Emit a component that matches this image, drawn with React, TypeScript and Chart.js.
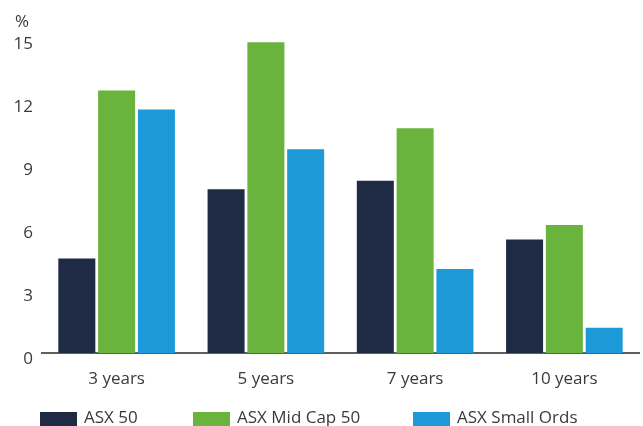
import React, { useEffect, useRef } from "react";
import { Chart, registerables } from "chart.js";

Chart.register(...registerables);

// ---- data ----
const categories = ["3 years", "5 years", "7 years", "10 years"];
const seriesNames = ["ASX 50", "ASX Mid Cap 50", "ASX Small Ords"];
const asx50 = [4.5, 7.8, 8.2, 5.4];
const midCap50 = [12.5, 14.8, 10.7, 6.1];
const smallOrds = [11.6, 9.7, 4.0, 1.2];
const yTicks = [0, 3, 6, 9, 12, 15];
const unitLabel = "%";

// ---- styles ----
const COLORS = ["#1f2a44", "#6ab43e", "#1c99d6"];
const FONT_FAMILY = "'Open Sans', sans-serif";
const FONT_SIZE = 17;
const TEXT_COLOR = "#3a3a3a";
const AXIS_COLOR = "#5f5f5f";
const LEGEND_LEFT = [40, 193, 413];

export default function App() {
  const canvasRef = useRef<HTMLCanvasElement | null>(null);

  useEffect(() => {
    if (!canvasRef.current) return;
    const series = [asx50, midCap50, smallOrds];
    const chart = new Chart(canvasRef.current, {
      type: "bar",
      data: {
        labels: categories,
        datasets: series.map((values, i) => ({
          label: seriesNames[i],
          data: values,
          backgroundColor: COLORS[i],
          borderWidth: 0,
          categoryPercentage: 0.8,
          barPercentage: 0.93,
        })),
      },
      options: {
        animation: false,
        responsive: false,
        devicePixelRatio: 1,
        layout: { padding: { left: 15, right: 4, top: 12, bottom: 20.6 } },
        plugins: {
          legend: { display: false },
          tooltip: { enabled: false },
          title: {
            display: true,
            text: unitLabel,
            align: "start",
            color: TEXT_COLOR,
            font: { family: FONT_FAMILY, size: FONT_SIZE, weight: "normal" },
            padding: { top: 0, bottom: 5.6 },
          },
        },
        scales: {
          x: {
            grid: { display: false, drawTicks: false },
            border: { display: true, color: AXIS_COLOR, width: 2 },
            ticks: {
              color: TEXT_COLOR,
              font: { family: FONT_FAMILY, size: FONT_SIZE },
              padding: 16,
            },
          },
          y: {
            min: 0,
            max: 15,
            afterBuildTicks: (scale: any) => {
              scale.ticks = yTicks.map((v) => ({ value: v }));
            },
            afterFit: (scale: any) => {
              scale.width = 27;
            },
            grid: { display: false, drawTicks: false },
            border: { display: false },
            ticks: {
              color: TEXT_COLOR,
              font: { family: FONT_FAMILY, size: FONT_SIZE },
              padding: 9,
              labelOffset: 6,
            },
          },
        },
      },
    });
    return () => chart.destroy();
  }, []);

  return (
    <div style={{ position: "absolute", left: 0, top: 0, width: 643, height: 426 }}>
      <canvas ref={canvasRef} width={643} height={426} style={{ position: "absolute", left: 0, top: 0 }} />
      {seriesNames.map((name, i) => (
        <div
          key={name}
          style={{
            position: "absolute",
            left: LEGEND_LEFT[i],
            top: 411.5,
            display: "flex",
            alignItems: "center",
            height: 14,
            fontFamily: FONT_FAMILY,
            fontSize: FONT_SIZE,
            color: TEXT_COLOR,
            whiteSpace: "nowrap",
          }}
        >
          <span style={{ display: "inline-block", width: 37, height: 14, background: COLORS[i], marginRight: 7 }} />
          <span style={{ lineHeight: "14px", position: "relative", top: -1.5 }}>{name}</span>
        </div>
      ))}
    </div>
  );
}
